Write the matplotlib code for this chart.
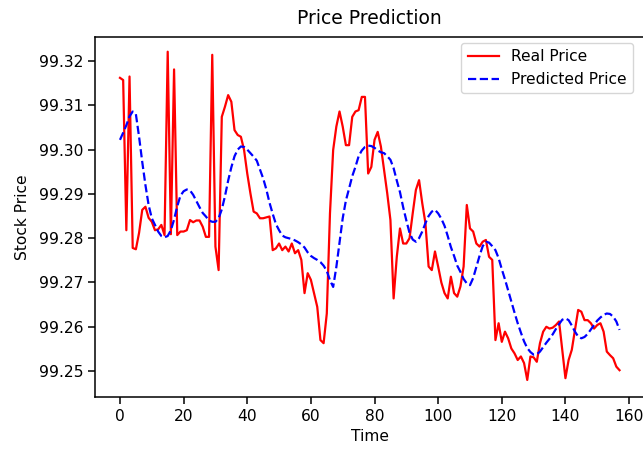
import matplotlib
matplotlib.use("Agg")
import matplotlib.pyplot as plt
from matplotlib.ticker import FormatStrFormatter, MultipleLocator

real_price = [
    99.3162, 99.3157, 99.2818, 99.3165, 99.2778, 99.2775, 99.2812, 99.2864, 99.2871, 99.2846,
    99.2837, 99.2818, 99.2820, 99.2830, 99.2807, 99.3221, 99.2809, 99.3181, 99.2807, 99.2815,
    99.2815, 99.2818, 99.2841, 99.2836, 99.2840, 99.2840, 99.2826, 99.2803, 99.2803, 99.3214,
    99.2781, 99.2728, 99.3074, 99.3097, 99.3123, 99.3108, 99.3044, 99.3033, 99.3029, 99.2999,
    99.2946, 99.2901, 99.2860, 99.2856, 99.2845, 99.2845, 99.2847, 99.2849, 99.2773, 99.2777,
    99.2788, 99.2773, 99.2781, 99.2770, 99.2788, 99.2766, 99.2773, 99.2751, 99.2676, 99.2721,
    99.2706, 99.2676, 99.2645, 99.2570, 99.2563, 99.2630, 99.2856, 99.2999, 99.3052, 99.3086,
    99.3052, 99.3010, 99.3010, 99.3074, 99.3086, 99.3089, 99.3119, 99.3119, 99.2946, 99.2961,
    99.3022, 99.3040, 99.3007, 99.2954, 99.2901, 99.2841, 99.2664, 99.2758, 99.2822, 99.2788,
    99.2788, 99.2800, 99.2856, 99.2909, 99.2931, 99.2879, 99.2834, 99.2736, 99.2728, 99.2770,
    99.2736, 99.2700, 99.2676, 99.2664, 99.2713, 99.2676, 99.2668, 99.2691, 99.2736, 99.2875,
    99.2822, 99.2815, 99.2788, 99.2781, 99.2792, 99.2796, 99.2758, 99.2751, 99.2570, 99.2608,
    99.2566, 99.2589, 99.2574, 99.2551, 99.2540, 99.2525, 99.2533, 99.2518, 99.2480, 99.2533,
    99.2531, 99.2521, 99.2563, 99.2589, 99.2600, 99.2596, 99.2598, 99.2604, 99.2612, 99.2548,
    99.2484, 99.2525, 99.2548, 99.2593, 99.2638, 99.2634, 99.2615, 99.2615, 99.2608, 99.2596,
    99.2604, 99.2608, 99.2589, 99.2544, 99.2536, 99.2529, 99.2510, 99.2502,
]

predicted_price = [
    99.3022, 99.3038, 99.3055, 99.3075, 99.3086, 99.3080, 99.3029, 99.2972, 99.2920, 99.2875,
    99.2845, 99.2830, 99.2815, 99.2805, 99.2802, 99.2805, 99.2818, 99.2842, 99.2872, 99.2896,
    99.2906, 99.2910, 99.2908, 99.2898, 99.2884, 99.2870, 99.2857, 99.2849, 99.2840, 99.2837,
    99.2837, 99.2845, 99.2865, 99.2895, 99.2930, 99.2960, 99.2985, 99.3000, 99.3007, 99.3006,
    99.3000, 99.2992, 99.2984, 99.2975, 99.2955, 99.2935, 99.2910, 99.2880, 99.2855, 99.2832,
    99.2818, 99.2806, 99.2802, 99.2800, 99.2798, 99.2795, 99.2791, 99.2786, 99.2779, 99.2768,
    99.2760, 99.2755, 99.2751, 99.2746, 99.2738, 99.2726, 99.2705, 99.2690, 99.2735, 99.2790,
    99.2845, 99.2885, 99.2912, 99.2940, 99.2961, 99.2985, 99.2998, 99.3006, 99.3009, 99.3008,
    99.3004, 99.2998, 99.2994, 99.2992, 99.2985, 99.2977, 99.2958, 99.2930, 99.2904, 99.2870,
    99.2840, 99.2812, 99.2797, 99.2792, 99.2800, 99.2815, 99.2834, 99.2850, 99.2860, 99.2864,
    99.2856, 99.2844, 99.2828, 99.2805, 99.2780, 99.2760, 99.2738, 99.2724, 99.2708, 99.2698,
    99.2694, 99.2710, 99.2735, 99.2760, 99.2782, 99.2792, 99.2790, 99.2782, 99.2773, 99.2755,
    99.2730, 99.2707, 99.2682, 99.2657, 99.2632, 99.2608, 99.2587, 99.2567, 99.2552, 99.2543,
    99.2537, 99.2538, 99.2544, 99.2554, 99.2564, 99.2573, 99.2583, 99.2595, 99.2606, 99.2616,
    99.2619, 99.2615, 99.2603, 99.2589, 99.2578, 99.2574, 99.2577, 99.2584, 99.2594, 99.2604,
    99.2614, 99.2621, 99.2627, 99.2630, 99.2629, 99.2623, 99.2612, 99.2593,
]

x_ticks = [0, 20, 40, 60, 80, 100, 120, 140, 160]
title = "Price Prediction"
x_label = "Time"
y_label = "Stock Price"
labels = ["Real Price", "Predicted Price"]

W, H = 643, 449
fig = plt.figure(figsize=(W / 100, H / 100), dpi=100)
left, right, top, bottom = 95, 644.5, 37, 397
ax = fig.add_axes([left / W, 1 - bottom / H, (right - left) / W, (bottom - top) / H])

ax.plot(range(len(real_price)), real_price, color="red", lw=1.6, label=labels[0])
ax.plot(range(len(predicted_price)), predicted_price, color="blue", lw=1.6,
        linestyle="--", label=labels[1])

ax.set_xlim(-7.85, 164.85)
ax.set_ylim(99.24415, 99.32542)
ax.set_xticks(x_ticks)
ax.yaxis.set_major_locator(MultipleLocator(0.01))
ax.yaxis.set_major_formatter(FormatStrFormatter("%.2f"))
ax.tick_params(labelsize=11.2, length=5, width=1.1)
for s in ax.spines.values():
    s.set_linewidth(1.1)

ax.set_title(title, fontsize=13.5, pad=9)
ax.set_xlabel(x_label, fontsize=11.2, labelpad=4)
ax.set_ylabel(y_label, fontsize=11.2, labelpad=6)

ax.legend(loc="upper right", bbox_to_anchor=(633 / W, 1 - 43 / H),
          bbox_transform=fig.transFigure, fontsize=11.2, borderaxespad=0,
          handlelength=2.0, framealpha=0.8)

fig.savefig("out.png", dpi=100)
